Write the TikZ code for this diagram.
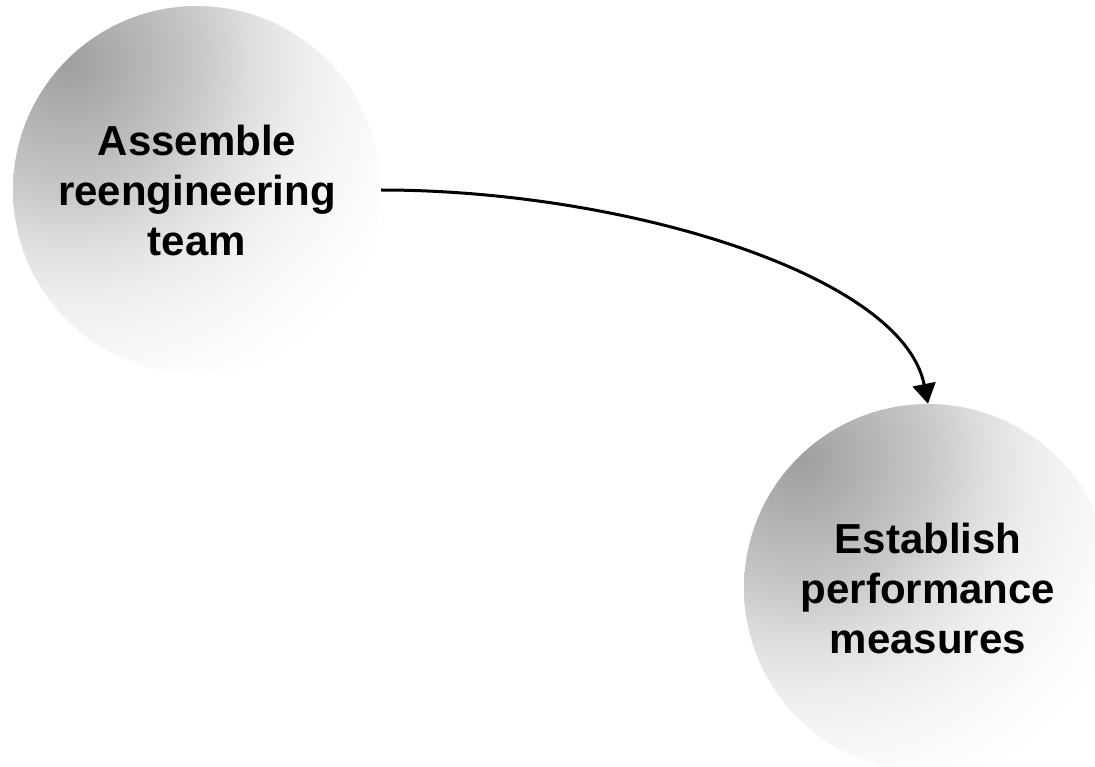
\documentclass[tikz,border=0pt]{standalone}
\usepackage{fontspec}
\setmainfont{Liberation Sans}
\usetikzlibrary{arrows.meta}
% grey sheen: concentric rings, darkest at the centre, white at the rim (25bp)
\pgfdeclareradialshading{sheen}{\pgfpointorigin}{%
  color(0bp)=(black!38); color(8.75bp)=(black!22); color(12.5bp)=(black!13);
  color(16.25bp)=(black!6.5); color(21.25bp)=(black!2); color(25bp)=(white);
  color(50bp)=(white)}
\begin{document}
\begin{tikzpicture}[x=1pt,y=-1pt,
  stage/.style={circle, minimum size=368pt, inner sep=0pt,
    path picture={\shade[shading=sheen]
      ([shift={(-129,-129)}]path picture bounding box.center) circle (368pt);},
    align=center, font=\bfseries\fontsize{42}{50}\selectfont},
  flow/.style={line width=3pt, -{Triangle[length=20pt,width=23pt]}}]
\useasboundingbox (0,0) rectangle (1095,767);
\node[stage] (team) at (197,190) {Assemble\\reengineering\\team};
\node[stage] (measures) at (928,588) {Establish\\performance\\measures};
\draw[flow] (team.east) .. controls +(240,0) and +(-26,-130) .. (measures.north);
\end{tikzpicture}
\end{document}
